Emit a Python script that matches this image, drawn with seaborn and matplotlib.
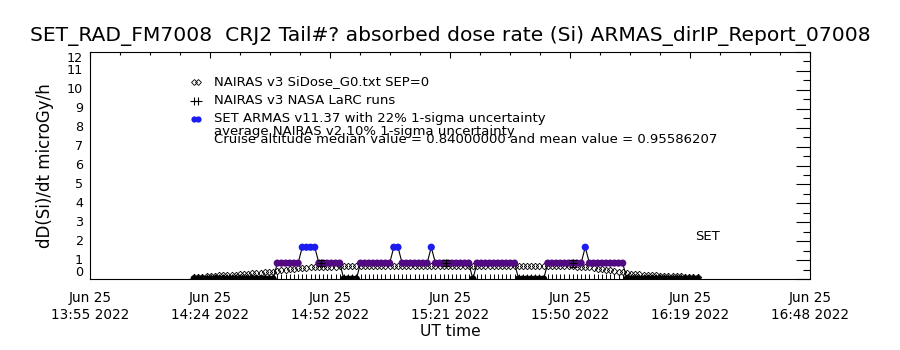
import numpy as np
import pandas as pd
import matplotlib
matplotlib.use("Agg")
import matplotlib.pyplot as plt
import seaborn as sns

# ---------------- data ----------------
title = "SET_RAD_FM7008  CRJ2 Tail#? absorbed dose rate (Si) ARMAS_dirIP_Report_07008"
y_label = "dD(Si)/dt microGy/h"
x_label = "UT time"
x_tick_labels = ["Jun 25\n13:55 2022", "Jun 25\n14:24 2022", "Jun 25\n14:52 2022",
                 "Jun 25\n15:21 2022", "Jun 25\n15:50 2022", "Jun 25\n16:19 2022",
                 "Jun 25\n16:48 2022"]
axis_span_min = 173          # 13:55 -> 16:48, minutes
y_max = 12

first_sample_min = 25        # first 1-min sample, minutes after 13:55

armas_dose = ([0.0] * 20 + [0.84] * 6 + [1.68] * 4 + [0.84] * 6 + [0.0] * 4 +
              [0.84] * 8 + [1.68] * 2 + [0.84] * 7 + [1.68] + [0.84] * 9 + [0.0] +
              [0.84] * 10 + [0.0] * 7 + [0.84] * 9 + [1.68] + [0.84] * 9 + [0.0] * 18)

nairas_g0 = [0.08, 0.10, 0.12, 0.14, 0.16, 0.18, 0.19, 0.20, 0.21, 0.22,
             0.23, 0.25, 0.27, 0.28, 0.30, 0.32, 0.33, 0.35, 0.37, 0.39,
             0.42, 0.45, 0.48, 0.51, 0.54, 0.56, 0.58, 0.60, 0.62, 0.63,
             0.65, 0.65, 0.66, 0.66, 0.66, 0.67, 0.67, 0.67, 0.67, 0.68,
             0.68, 0.68, 0.68, 0.69, 0.69, 0.69, 0.69, 0.69, 0.70, 0.70,
             0.70, 0.70, 0.70, 0.70, 0.70, 0.70, 0.70, 0.70, 0.70, 0.70,
             0.70, 0.70, 0.70, 0.70, 0.70, 0.70, 0.70, 0.69, 0.69, 0.69,
             0.69, 0.69, 0.69, 0.69, 0.69, 0.69, 0.69, 0.69, 0.69, 0.68,
             0.68, 0.68, 0.68, 0.68, 0.68, 0.68, 0.68, 0.67, 0.67, 0.67,
             0.67, 0.67, 0.66, 0.66, 0.64, 0.61, 0.58, 0.55, 0.52, 0.48,
             0.45, 0.42, 0.38, 0.35, 0.31, 0.28, 0.26, 0.24, 0.22, 0.21,
             0.20, 0.19, 0.18, 0.17, 0.16, 0.15, 0.15, 0.14, 0.13, 0.12, 0.12, 0.11]

larc_zero_dose = [0.0] * 122
larc_min = [55.5, 85.5, 116.0]
larc_dose = [0.84, 0.85, 0.83]
larc_err = [0.17, 0.17, 0.17]

legend_labels = ["NAIRAS v3 SiDose_G0.txt SEP=0",
                 "NAIRAS v3 NASA LaRC runs",
                 "SET ARMAS v11.37 with 22% 1-sigma uncertainty"]
note_lines = ["average NAIRAS v2 10% 1-sigma uncertainty",
              "Cruise altitude median value = 0.84000000 and mean value = 0.95586207"]
side_label = "SET"

level_names = {0.0: "zero", 0.84: "one", 1.68: "two"}
level_colors = {"zero": "#000000", "one": "#520a82", "two": "#1c1cf0"}

# ---------------- plot ----------------
sns.set_theme(style="white")
plt.rcParams["font.family"] = ["DejaVu Sans"]

W, H = 900, 350
fig = plt.figure(figsize=(9, 3.5), dpi=100)
L, R, T, B = 90, 810, 52, 279
ax = fig.add_axes([L / W, 1 - B / H, (R - L) / W, (B - T) / H])

times = first_sample_min + np.arange(len(armas_dose))
df_armas = pd.DataFrame({"t": times, "dose": armas_dose})
df_armas["lvl"] = df_armas["dose"].map(level_names)
df_g0 = pd.DataFrame({"t": first_sample_min + np.arange(len(nairas_g0)), "dose": nairas_g0})
df_lz = pd.DataFrame({"t": first_sample_min + np.arange(len(larc_zero_dose)), "dose": larc_zero_dose})

# NAIRAS G0 diamonds
sns.lineplot(data=df_g0, x="t", y="dose", estimator=None, sort=False, ax=ax,
             linestyle="", marker="D", markersize=3.3, markerfacecolor="none",
             markeredgecolor="black", markeredgewidth=0.6, color="black", zorder=1)
# LaRC zero points
sns.scatterplot(data=df_lz, x="t", y="dose", marker="+", s=50, color="black",
                linewidth=0.7, ax=ax, zorder=2, legend=False)
# ARMAS connecting line
sns.lineplot(data=df_armas, x="t", y="dose", estimator=None, sort=False, ax=ax,
             color="black", linewidth=0.8, zorder=3)
# ARMAS points coloured by level
sns.scatterplot(data=df_armas, x="t", y="dose", hue="lvl", palette=level_colors,
                s=27, linewidth=0, ax=ax, zorder=4, legend=False)
# LaRC runs with uncertainty
ax.errorbar(larc_min, larc_dose, yerr=larc_err, fmt="+", color="black", ms=6,
            mew=0.8, elinewidth=0.8, capsize=3, capthick=0.8, zorder=5)

ax.set_xlim(0, axis_span_min)
ax.set_ylim(0, y_max)
ax.set_xticks(np.linspace(0, axis_span_min, len(x_tick_labels)))
ax.set_xticks(np.linspace(0, axis_span_min, 4 * (len(x_tick_labels) - 1) + 1), minor=True)
ax.set_xticklabels(x_tick_labels, linespacing=1.25)
ax.set_yticks(np.arange(0, y_max + 1))
ax.set_yticks(np.arange(0, y_max + 0.01, 0.5), minor=True)
ax.set_yticklabels([str(v) for v in range(y_max + 1)])

for sp in ax.spines.values():
    sp.set_linewidth(0.8)
    sp.set_color("black")
ax.tick_params(which="both", direction="in", top=True, right=True, color="black",
               width=0.8, labelcolor="black")
ax.tick_params(axis="y", which="major", length=10, pad=5, labelsize=9.2)
ax.tick_params(axis="y", which="minor", length=5)
ax.tick_params(axis="x", which="major", length=4.3, pad=8.5, labelsize=9.8)
ax.tick_params(axis="x", which="minor", length=2.2)
for lab in ax.get_xticklabels():
    lab.set_va("top")
ylabs = ax.get_yticklabels()
for lab in ylabs:
    lab.set_va("center")
ylabs[0].set_va("bottom")
ylabs[-1].set_va("top")

ax.set_xlabel(x_label, fontsize=11.2, color="black")
ax.xaxis.set_label_coords(0.5, (B - 332) / (B - T))
ax.xaxis.label.set_va("center")
ax.set_ylabel(y_label, fontsize=12, color="black")
ax.yaxis.set_label_coords((45 - L) / (R - L), 0.5)
ax.yaxis.label.set_va("center")

fig.text(0.5, 1 - 36 / H, title, ha="center", va="center", fontsize=14.6, color="black")

# legend block (IDL style)
def afr(px, py):
    return (px - L) / (R - L), (B - py) / (B - T)

rows = [82, 101, 118.5]
sym = [dict(marker="D", ms=3, mfc="none", mec="black", mew=0.6, color="black"),
       dict(marker="+", ms=6, mew=0.8, color="black"),
       dict(marker="o", ms=4.5, mew=0, color=level_colors["two"])]
for py, kw in zip(rows, sym):
    xs, ys = zip(afr(193.5, py), afr(198, py))
    ax.plot(xs, ys, linestyle="", transform=ax.transAxes, clip_on=False, **kw)
for py, txt in zip(rows, legend_labels):
    fig.text(214 / W, 1 - py / H, txt, ha="left", va="center", fontsize=9.5, color="black")
for py, txt in zip([131, 139.5], note_lines):
    fig.text(214 / W, 1 - py / H, txt, ha="left", va="center", fontsize=9.5, color="black")
fig.text(707 / W, 1 - 237 / H, side_label, ha="center", va="center", fontsize=9.5, color="black")

fig.savefig("out.png", dpi=100, facecolor="white")
